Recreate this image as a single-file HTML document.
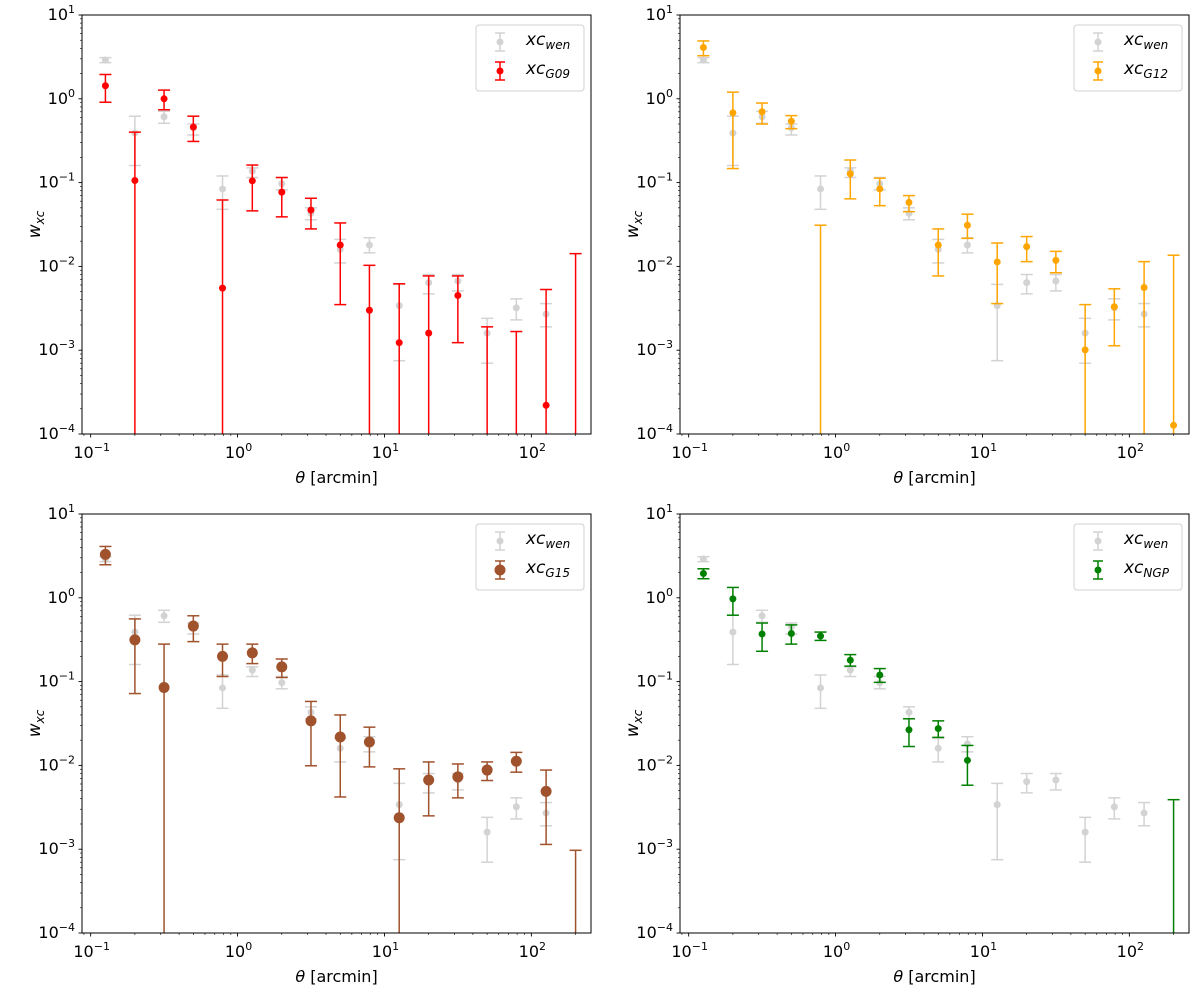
<!DOCTYPE html>
<html><head><meta charset="utf-8"><style>
html,body{margin:0;padding:0;background:#fff;}
svg{display:block;font-family:"DejaVu Sans","Liberation Sans",sans-serif;}
</style></head><body>
<svg id="fig" width="1200" height="988" viewBox="0 0 1200 988" xmlns="http://www.w3.org/2000/svg"></svg>
<script>
const theta = [0.126,0.2,0.316,0.5,0.79,1.26,2,3.16,5,7.9,12.6,20,31.6,50,79,126,200];
// null value = no marker; lo 0 = error bar extends below axis
const wenVal = [2.9,0.39,0.61,0.45,0.084,0.137,0.097,0.043,0.016,0.018,0.0034,0.0064,0.0067,0.0016,0.0032,0.0027,null];
const wenHi  = [3.1,0.62,0.71,0.5,0.12,0.15,0.115,0.05,0.021,0.022,0.0061,0.008,0.008,0.0024,0.0041,0.0036,null];
const wenLo  = [2.7,0.16,0.51,0.37,0.048,0.115,0.082,0.036,0.011,0.0145,0.00075,0.0047,0.0051,0.0007,0.0023,0.0019,null];

const g09Val = [1.43,0.106,1.0,0.46,0.0055,0.105,0.077,0.047,0.018,0.003,0.00123,0.0016,0.0045,null,null,0.00022,null];
const g09Hi  = [1.95,0.4,1.27,0.62,0.062,0.162,0.115,0.065,0.033,0.0103,0.0062,0.0077,0.0077,0.0019,0.00167,0.0053,0.0142];
const g09Lo  = [0.91,0,0.74,0.31,0,0.046,0.039,0.028,0.0035,0,0,0,0.00123,0,0,0,0];

const g12Val = [4.1,0.68,0.70,0.54,null,0.127,0.084,0.058,0.018,0.031,0.0113,0.0172,0.0118,0.00101,0.0033,0.0056,0.000127];
const g12Hi  = [4.9,1.2,0.89,0.63,0.031,0.186,0.113,0.070,0.028,0.042,0.019,0.0227,0.0151,0.0035,0.0054,0.0114,0.0136];
const g12Lo  = [3.27,0.147,0.50,0.44,0,0.064,0.053,0.045,0.0077,0.0216,0.0036,0.0114,0.0084,0,0.00113,0,0];

const g15Val = [3.3,0.315,0.085,0.46,0.2,0.22,0.15,0.034,0.0218,0.019,0.00237,0.0067,0.0073,0.0088,0.0112,0.0049,null];
const g15Hi  = [4.1,0.56,0.28,0.61,0.28,0.28,0.186,0.058,0.040,0.0286,0.0091,0.011,0.0104,0.011,0.0143,0.0088,0.00097];
const g15Lo  = [2.48,0.072,0,0.30,0.115,0.164,0.112,0.0099,0.0042,0.0096,0,0.0025,0.0041,0.0066,0.0083,0.00114,0];

const ngpVal = [1.95,0.97,0.37,0.375,0.35,0.18,0.12,0.0266,0.0275,0.0115,null,null,null,null,null,null,null];
const ngpHi  = [2.22,1.33,0.50,0.475,0.39,0.21,0.143,0.036,0.034,0.0173,null,null,null,null,null,null,0.0039];
const ngpLo  = [1.69,0.62,0.23,0.28,0.31,0.153,0.098,0.0168,0.0216,0.0058,null,null,null,null,null,null,0];

const yTickExp = [1,0,-1,-2,-3,-4];
const xTickExp = [-1,0,1,2];

const NS="http://www.w3.org/2000/svg";
const fig=document.getElementById('fig');
function mk(tag,attrs,parent){const e=document.createElementNS(NS,tag);for(const k in attrs)e.setAttribute(k,attrs[k]);(parent||fig).appendChild(e);return e;}

const XMIN=-1.059, XMAX=2.406, YMIN=-4, YMAX=1;
function panel(box,key,color,label,sub,vals,his,los,r){
  const [x0,y0,x1,y1]=box;
  const g=mk('g',{});
  
  
  const sx=v=>x0+(Math.log10(v)-XMIN)/(XMAX-XMIN)*(x1-x0);
  const sy=v=>y1-(Math.log10(v)-YMIN)/(YMAX-YMIN)*(y1-y0);
  const clip='clip-'+key;
  const cp=mk('clipPath',{id:clip},g);mk('rect',{x:x0,y:y0,width:x1-x0,height:y1-y0},cp);
  for(let d=-4;d<=1;d++){for(let m=1;m<=9;m++){if(d==1&&m>1)break;const v=m*Math.pow(10,d);const y=sy(v);
    mk('line',{x1:x0,x2:x0-(m==1?3.5:2),y1:y,y2:y,stroke:'#000','stroke-width':m==1?0.9:0.6},g);}}
  for(let d=-2;d<=2;d++){for(let m=1;m<=9;m++){const v=m*Math.pow(10,d);const lv=Math.log10(v);if(lv<XMIN||lv>XMAX)continue;const x=sx(v);
    mk('line',{x1:x,x2:x,y1:y1,y2:y1+(m==1?3.5:2),stroke:'#000','stroke-width':m==1?0.9:0.6},g);}}
  yTickExp.forEach(e=>{const t=mk('text',{x:x0-7,y:sy(Math.pow(10,e))+5,'text-anchor':'end','font-size':16},g);
    
    t.appendChild(document.createTextNode('10'));const s=mk('tspan',{dy:-7,'font-size':11},t);s.textContent=e<0?'\u2212'+(-e):String(e);});
  xTickExp.forEach(e=>{const t=mk('text',{x:sx(Math.pow(10,e))+1,y:y1+24,'text-anchor':'middle','font-size':16},g);
    
    t.appendChild(document.createTextNode('10'));const s=mk('tspan',{dy:-7,'font-size':11},t);s.textContent=e<0?'\u2212'+(-e):String(e);});
  const xl=mk('text',{x:(x0+x1)/2,y:y1+49,'text-anchor':'middle','font-size':16},g);
  
  xl.innerHTML='<tspan font-style="italic">θ</tspan> [arcmin]';
  const yl=mk('text',{x:0,y:0,'text-anchor':'middle','font-size':17,transform:`translate(${x0-42},${(y0+y1)/2}) rotate(-90)`},g);
  
  yl.innerHTML='<tspan font-style="italic">w</tspan><tspan font-style="italic" font-size="12" dy="4">xc</tspan>';
  const plot=mk('g',{'clip-path':`url(#${clip})`},g);
  function series(v,h,l,col,rad,name){
    const sg=mk('g',{},plot);
    theta.forEach((t,i)=>{
      if(h[i]==null)return;const x=sx(t);
      const yt=sy(h[i]);const yb=l[i]>0?sy(l[i]):y1+20;
      const ln=mk('line',{x1:x,x2:x,y1:yt,y2:yb,stroke:col,'stroke-width':1.5},sg);
      
      mk('line',{x1:x-6,x2:x+6,y1:yt,y2:yt,stroke:col,'stroke-width':1.5},sg);
      if(l[i]>0)mk('line',{x1:x-6,x2:x+6,y1:yb,y2:yb,stroke:col,'stroke-width':1.5},sg);
      if(v[i]!=null){const c=mk('circle',{cx:x,cy:sy(v[i]),r:rad,fill:col},sg);
        }
    });
  }
  series(wenVal,wenHi,wenLo,'#d3d3d3',3.5,'series-wen');
  series(vals,his,los,color,r,'series-'+key);
  mk('rect',{x:x0,y:y0,width:x1-x0,height:y1-y0,fill:'none',stroke:'#000','stroke-width':1},g);
  const lg=mk('g',{},g);
  const lx=x1-115,ly=y0+10;
  mk('rect',{x:lx,y:ly,width:108,height:66,rx:3,fill:'#fff',stroke:'#d0d0d0','stroke-width':1},lg);
  function entry(yy,col,rad,s){
    const ex=lx+24;
    mk('line',{x1:ex,x2:ex,y1:yy-9,y2:yy+9,stroke:col,'stroke-width':1.5},lg);
    mk('line',{x1:ex-5,x2:ex+5,y1:yy-9,y2:yy-9,stroke:col,'stroke-width':1.5},lg);
    mk('line',{x1:ex-5,x2:ex+5,y1:yy+9,y2:yy+9,stroke:col,'stroke-width':1.5},lg);
    mk('circle',{cx:ex,cy:yy,r:rad,fill:col},lg);
    const t=mk('text',{x:lx+50,y:yy+3,'font-size':17,'font-style':'italic'},lg);
    
    t.appendChild(document.createTextNode('xc'));const ts=mk('tspan',{dy:4,'font-size':12},t);ts.textContent=s;
  }
  entry(ly+17,'#d3d3d3',3.5,'wen');
  entry(ly+46,color,r,sub);
}
panel([82,15,591,434],'g09','#ff0000','G09','G09',g09Val,g09Hi,g09Lo,3.5);
panel([680,15,1189,434],'g12','#ffa500','G12','G12',g12Val,g12Hi,g12Lo,3.5);
panel([82,514,591,933],'g15','#a0522d','G15','G15',g15Val,g15Hi,g15Lo,5.5);
panel([680,514,1189,933],'ngp','#008000','NGP','NGP',ngpVal,ngpHi,ngpLo,3.5);
</script>
</body></html>
